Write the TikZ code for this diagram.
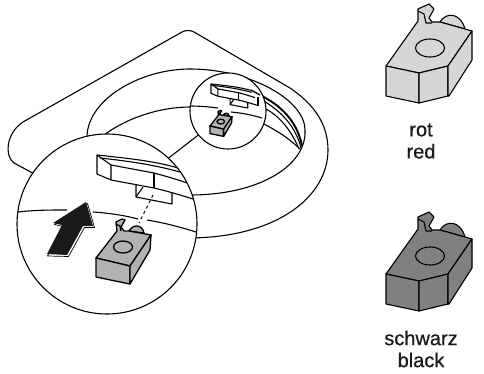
\documentclass[tikz,border=0pt]{standalone}
\usepackage{fontspec}
\setmainfont{Liberation Sans}
\usetikzlibrary{positioning}
\colorlet{blockgray}{black!30}

\newcommand{\clipbody}[1]{%
   \draw[part,fill=#1] (440,22) .. controls (446,12) and (460,12) .. (465,29) -- cycle;
   \draw[part,fill=#1] (386,66) -- (418,21) -- (418,9) -- (429,4) -- (434,9) -- (429,18) -- (432,22) -- (440,22)
      -- (472,31) -- (448,66) -- (419,73) -- cycle;
   \draw[part,fill=#1] (386,66) -- (419,73) -- (419,103) -- (386,96) -- cycle;
   \draw[part,fill=#1] (419,73) -- (448,66) -- (448,96) -- (419,103) -- cycle;
   \draw[part,fill=#1] (448,66) -- (472,31) -- (472,60) -- (449,96) -- (448,96) -- cycle;
   \draw[part] (418,11) -- (424,14) -- (426,23) -- (432,23);
   \draw[part] (430,48) ellipse (14.5 and 9);
}
\newcommand{\lensbody}{%
   \draw[heavy,fill=blockgray] (129,231) .. controls (133,224) and (142,224) .. (144,233) -- cycle;
   \draw[heavy,fill=blockgray] (96,258) -- (117,231) -- (116,222) -- (122,219) -- (125,220) -- (121,227) -- (124,231)
      -- (129,231) -- (151,235) -- (130,266) -- cycle;
   \draw[heavy,fill=blockgray] (96,258) -- (130,266) -- (130,284) -- (96,277) -- cycle;
   \draw[heavy,fill=blockgray] (130,266) -- (151,235) -- (150,250) -- (130,284) -- cycle;
   \draw[heavy] (116,224) -- (120,226) -- (121,231);
   \draw[heavy] (123,247) ellipse (9.5 and 6);
}
\newcommand{\bracket}{%
   \draw[part] (97,155) -- (97,174) -- (111,180) -- (111,165) -- cycle;
   \draw[part] (97,155) .. controls (125,158) and (155,161) .. (178,168);
   \draw[part] (100,158) .. controls (128,161) and (155,165) .. (180,172);
   \draw[part] (111,165) -- (154,173) .. controls (165,176) and (176,179) .. (187,183);
   \draw[part] (111,180) -- (154,188) .. controls (167,191) and (180,195) .. (193,199);
   \draw[part] (154,173) -- (154,188);
   \draw[part] (136,184) -- (136,197) -- (172,204) -- (172,193);
   \draw[part] (136,197) -- (143,187);
}

\begin{document}
\begin{tikzpicture}
  [
   x=1pt,y=-1pt,
   line join=round,
   part/.style={line width=1.1pt,draw=black},
   heavy/.style={line width=1.3pt,draw=black},
   traybig/.style={line width=1.1pt,draw=black},
   lens/.style={circle,line width=1.1pt,draw=black,fill=white,inner sep=0pt,outer sep=0pt},
   caption/.style={font=\fontsize{20}{22}\selectfont\addfontfeature{FakeBold=0.6},align=center,text=black!90},
  ]
   \useasboundingbox (0,0) rectangle (484,374);

   % tray
   \draw[traybig] (40,177) -- (14,163) .. controls (5,157) and (5,134) .. (23,122) -- (182,32)
      .. controls (186,30) and (190,30) .. (194,32) -- (290,88) .. controls (315,105) and (328,125) .. (328,150)
      .. controls (328,195) and (280,237) .. (190,238);
   \draw[traybig] (87,140) .. controls (85,100) and (140,69) .. (190,69) .. controls (250,69) and (305,100) .. (305,130)
      .. controls (307,165) and (260,195) .. (190,195);
   \draw[traybig] (100,138) .. controls (125,118) and (160,107) .. (190,107) .. controls (235,107) and (275,125) .. (300,149);
   \draw[line width=1.9pt] (262,96) .. controls (285,108) and (298,125) .. (302,146);
   \draw[traybig] (262,100) .. controls (283,112) and (296,128) .. (301,148);
   \draw[traybig] (262,107) .. controls (280,115) and (292,132) .. (299,149);

   % lenses
   \node[lens,minimum size=76pt] (smalllens) at (228,111) {};
   \node[lens,minimum size=180pt] (biglens) at (107,224) {};
   \draw[traybig] (smalllens.219) -- (biglens.47);

   % big lens
   \bracket
   \draw[traybig] (18,212) .. controls (35,210) and (50,210) .. (67,210);
   \draw[traybig] (93,212) .. controls (108,213) and (123,215) .. (138,219);
   \draw[traybig] (147,220) .. controls (165,223) and (180,227) .. (196,232);
   \coordinate (dashtop) at (153,195);
   \coordinate (dashend) at (139,223);
   \draw[part,dashed] (dashtop) -- (dashend);
   \draw[line width=.7pt,fill=white] (54.5,224.5) -- (87.5,203.5) -- (94.5,227.5) -- (84.5,227.5) -- (68.5,256.5) -- (47.5,256) -- (63.5,226.5) -- cycle;
   \fill[black!90] (53,223) -- (86,202) -- (93,226) -- (83,226) -- (67,255) -- (47,254) -- (62,225) -- cycle;
   \lensbody

   % small lens
   \begin{scope}[shift={(211,84)},scale=.49,shift={(-97,-155)}]
     \bracket
   \end{scope}
   \draw[heavy] (251,90) -- (260,95);
   \draw[part] (258,97) -- (258,106);
   \draw[traybig] (190,106) .. controls (200,106) and (210,107) .. (218,108);
   \draw[traybig] (231,112) .. controls (242,113) and (252,115) .. (262,118);
   \begin{scope}[shift={(210,126)},scale=.4,shift={(-96,-258)}]
     \lensbody
   \end{scope}

   % parts on the right
   \clipbody{black!16}
   \begin{scope}[yshift=-208pt]
     \clipbody{black!50}
   \end{scope}

   \node[caption] (capred) at (421,141) {rot\\red};
   \node[caption] (capblack) at (421,349) {schwarz\\black};
\end{tikzpicture}
\end{document}
